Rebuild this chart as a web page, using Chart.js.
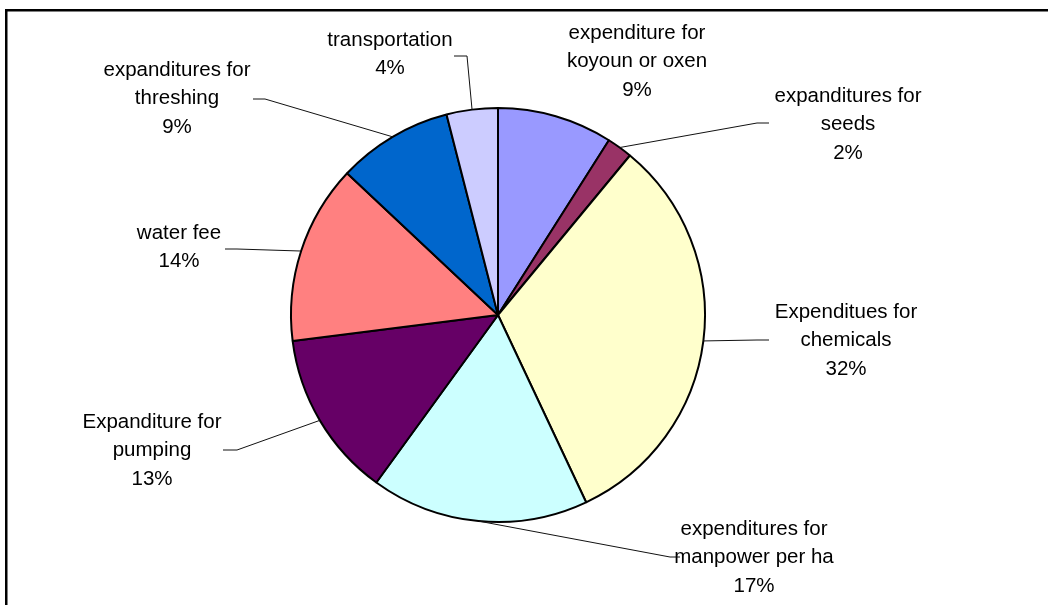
<!DOCTYPE html>
<html lang="en">
<head>
    <meta charset="UTF-8">
    <title>Production costs</title>
    <script src="https://cdn.jsdelivr.net/npm/chart.js@4.4.0/dist/chart.umd.min.js"></script>
    <style>
        body { margin: 0; background: #fff; }
        canvas { display: block; }
    </style>
</head>
<body>
    <canvas id="costChart" width="1048" height="605"></canvas>

    <script>
        // cost items, clockwise from 12 o'clock
        var categories = [
            ['expenditure for', 'koyoun or oxen'],
            ['expanditures for', 'seeds'],
            ['Expenditues for', 'chemicals'],
            ['expenditures for', 'manpower per ha'],
            ['Expanditure for', 'pumping'],
            ['water fee'],
            ['expanditures for', 'threshing'],
            ['transportation']
        ];
        var shares = [9, 2, 32, 17, 13, 14, 9, 4];
        var sliceColors = ['#9999FF', '#993366', '#FFFFCC', '#CCFFFF', '#660066', '#FF8080', '#0066CC', '#CCCCFF'];

        // where each label sits: text centre x, first line y, leader elbow and end (null = no leader)
        var labelLayout = [
            { x: 637, y: 33,  elbow: null,       end: null },
            { x: 848, y: 96,  elbow: [757, 123], end: [769, 123] },
            { x: 846, y: 312, elbow: [757, 340], end: [769, 340] },
            { x: 754, y: 529, elbow: [670, 557], end: [680, 557] },
            { x: 152, y: 422, elbow: [237, 450], end: [223, 450] },
            { x: 179, y: 233, elbow: [237, 249], end: [225, 249] },
            { x: 177, y: 70,  elbow: [265, 99],  end: [253, 99] },
            { x: 390, y: 40,  elbow: [467, 56],  end: [454, 56] }
        ];

        var lineHeight = 28.5;

        var labelPlugin = {
            id: 'sliceLabels',
            beforeDraw: function(chart) {
                var ctx = chart.ctx;
                ctx.save();
                ctx.fillStyle = '#fff';
                ctx.fillRect(0, 0, chart.width, chart.height);
                // frame: top and left edges only
                ctx.fillStyle = '#000';
                ctx.fillRect(5, 9, chart.width - 5, 2.5);
                ctx.fillRect(5, 9, 2.5, chart.height - 9);
                ctx.restore();
            },
            afterDatasetsDraw: function(chart) {
                var ctx = chart.ctx;
                var arcs = chart.getDatasetMeta(0).data;
                ctx.save();
                ctx.strokeStyle = '#111';
                ctx.lineWidth = 1;
                arcs.forEach(function(arc, i) {
                    var lay = labelLayout[i];
                    if (!lay.elbow) return;
                    var mid = (arc.startAngle + arc.endAngle) / 2;
                    var sx = arc.x + Math.cos(mid) * arc.outerRadius;
                    var sy = arc.y + Math.sin(mid) * arc.outerRadius;
                    ctx.beginPath();
                    ctx.moveTo(sx, sy);
                    ctx.lineTo(lay.elbow[0], lay.elbow[1]);
                    ctx.lineTo(lay.end[0], lay.end[1]);
                    ctx.stroke();
                });

                ctx.fillStyle = '#000';
                ctx.font = '20.5px "Liberation Sans", Arial, sans-serif';
                ctx.textAlign = 'center';
                ctx.textBaseline = 'middle';
                categories.forEach(function(lines, i) {
                    var lay = labelLayout[i];
                    var texts = lines.concat([shares[i] + '%']);
                    texts.forEach(function(t, j) {
                        ctx.fillText(t, lay.x, lay.y + j * lineHeight);
                    });
                });
                ctx.restore();
            }
        };

        var ctx = document.getElementById('costChart').getContext('2d');
        var costChart = new Chart(ctx, {
            type: 'pie',
            data: {
                labels: categories.map(function(l) { return l.join(' '); }),
                datasets: [{
                    data: shares,
                    backgroundColor: sliceColors,
                    borderColor: '#000',
                    borderWidth: 2,
                    radius: 207
                }]
            },
            options: {
                responsive: false,
                animation: false,
                layout: {
                    padding: { left: 100, right: 152, top: 100, bottom: 75 }
                },
                plugins: {
                    legend: { display: false },
                    tooltip: { enabled: false }
                }
            },
            plugins: [labelPlugin]
        });
    </script>
</body>
</html>
